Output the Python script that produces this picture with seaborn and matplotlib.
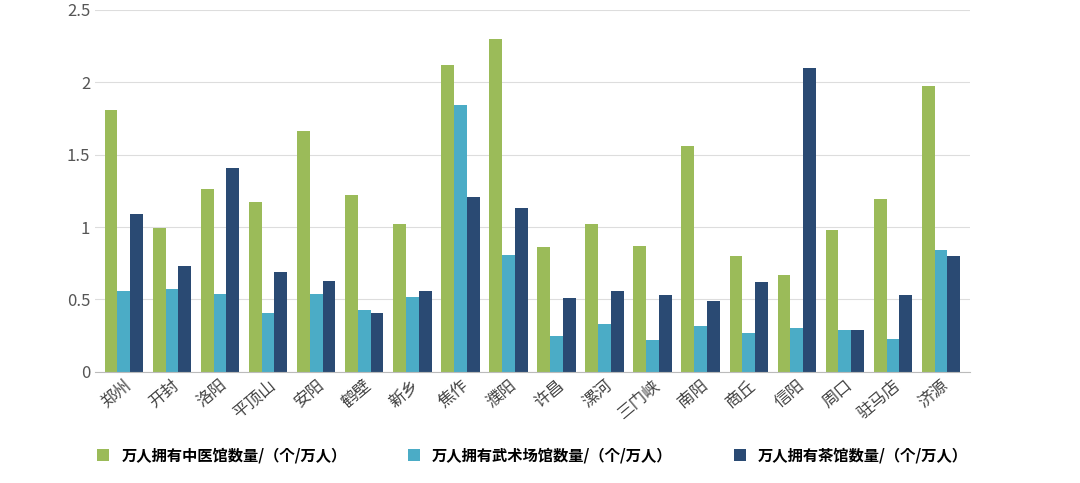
import matplotlib
matplotlib.use("Agg")
import matplotlib.pyplot as plt
import seaborn as sns
import pandas as pd

cities = ["郑州","开封","洛阳","平顶山","安阳","鹤壁","新乡","焦作","濮阳","许昌","漯河","三门峡","南阳","商丘","信阳","周口","驻马店","济源"]
tcm = [1.81,0.99,1.26,1.17,1.66,1.22,1.02,2.12,2.30,0.86,1.02,0.87,1.56,0.80,0.67,0.98,1.19,1.97]
martial = [0.56,0.57,0.54,0.41,0.54,0.43,0.52,1.84,0.81,0.25,0.33,0.22,0.32,0.27,0.30,0.29,0.23,0.84]
tea = [1.09,0.73,1.41,0.69,0.63,0.41,0.56,1.21,1.13,0.51,0.56,0.53,0.49,0.62,2.10,0.29,0.53,0.80]
series = ["万人拥有中医馆数量/（个/万人）","万人拥有武术场馆数量/（个/万人）","万人拥有茶馆数量/（个/万人）"]

df = pd.DataFrame({"city": cities*3,
                   "value": tcm+martial+tea,
                   "series": [series[0]]*18+[series[1]]*18+[series[2]]*18})

fams = ["Noto Sans CJK SC","Noto Sans CJK JP","Noto Sans CJK TC","Noto Sans CJK KR","DejaVu Sans"]
plt.rcParams["font.family"] = "sans-serif"
plt.rcParams["font.sans-serif"] = fams
fig = plt.figure(figsize=(10.8,4.83), dpi=100)
ax = fig.add_axes([0.088,0.23,0.81,0.75])
sns.barplot(data=df, x="city", y="value", hue="series", ax=ax,
            palette=["#9BBB59","#4BACC6","#2A4A73"], width=0.8, saturation=1, legend=True)
ax.set_ylim(0,2.5)
ax.set_yticks([0,0.5,1,1.5,2,2.5])
ax.set_yticklabels(["0","0.5","1","1.5","2","2.5"], color="#555555", fontsize=12)
ax.grid(axis="y", color="#dddddd", lw=0.8)
ax.set_axisbelow(True)
for s in ["top","right","left"]:
    ax.spines[s].set_visible(False)
ax.spines["bottom"].set_color("#bbbbbb")
ax.tick_params(length=0)
ax.set_xlabel(""); ax.set_ylabel("")
for lab in ax.get_xticklabels():
    lab.set_fontfamily(fams)
plt.setp(ax.get_xticklabels(), rotation=40, ha="right", rotation_mode="anchor", fontsize=12, color="#444444")
ax.set_xlim(-0.6, 17.6)
leg = ax.legend(loc="upper center", bbox_to_anchor=(0.5,-0.17), ncol=3, frameon=False,
          handlelength=0.8, handleheight=0.8, columnspacing=4,
          prop={"family":fams,"weight":"bold","size":11})
fig.savefig("out.png", dpi=100)
